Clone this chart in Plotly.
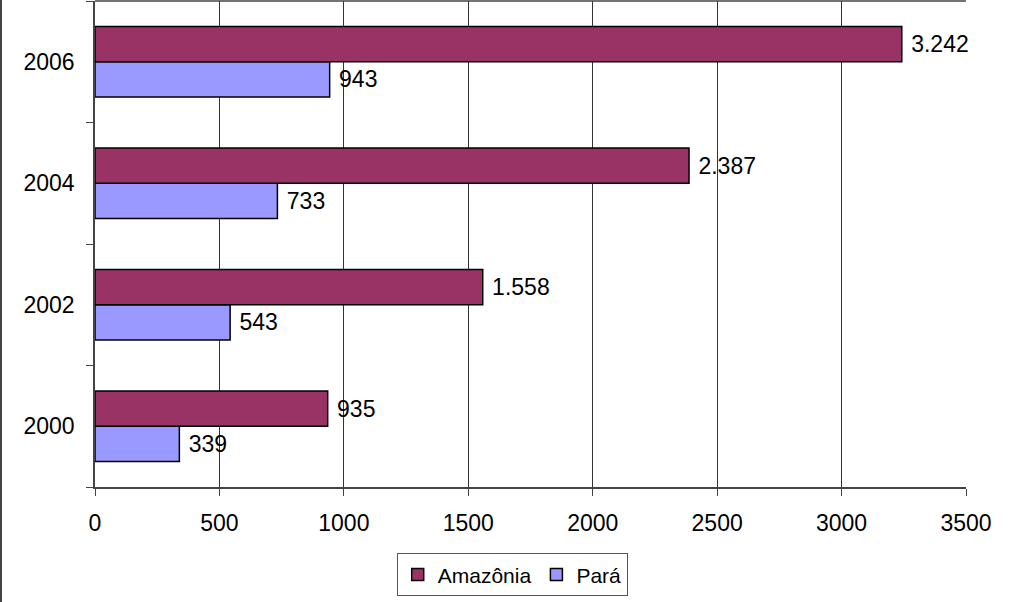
import plotly.graph_objects as go

years = ["2000", "2002", "2004", "2006"]
amazonia = [935, 1558, 2387, 3242]
para = [339, 543, 733, 943]
amazonia_labels = ["935", "1.558", "2.387", "3.242"]
para_labels = ["339", "543", "733", "943"]
x_ticks = [0, 500, 1000, 1500, 2000, 2500, 3000, 3500]

FONT = "Liberation Sans, Arial, sans-serif"
FS = 23

fig = go.Figure()
fig.add_trace(go.Bar(
    y=years, x=para, name="Pará", orientation="h",
    marker=dict(color="#9999FF", line=dict(color="black", width=1.5)),
    text=[" " + t for t in para_labels], textposition="outside", cliponaxis=False,
    textfont=dict(size=FS, color="black", family=FONT), legendrank=2,
))
fig.add_trace(go.Bar(
    y=years, x=amazonia, name="Amazônia", orientation="h",
    marker=dict(color="#993366", line=dict(color="black", width=1.5)),
    text=[" " + t for t in amazonia_labels], textposition="outside", cliponaxis=False,
    textfont=dict(size=FS, color="black", family=FONT), legendrank=1,
))

fig.update_layout(
    width=1024, height=602,
    margin=dict(l=95, r=58, t=1, b=115, autoexpand=False),
    paper_bgcolor="white", plot_bgcolor="white",
    barmode="group", bargap=0.42, bargroupgap=0,
    font=dict(family=FONT, size=FS, color="black"),
    legend=dict(
        orientation="h", x=0.479, xanchor="center", y=-0.181, yanchor="middle",
        bordercolor="#555555", borderwidth=1, font=dict(size=21),
        traceorder="normal", itemwidth=30,
    ),
    xaxis=dict(
        range=[0, 3500], tickvals=x_ticks, ticktext=[str(v) for v in x_ticks],
        showgrid=True, gridcolor="#333333", gridwidth=1,
        showline=True, linecolor="#444444", linewidth=1.5,
        ticks="outside", ticklen=7, tickcolor="#444444",
        zeroline=False, mirror=False, ticklabelstandoff=8, automargin=False,
    ),
    yaxis=dict(
        type="category", categoryorder="array", categoryarray=years,
        showgrid=False, showline=True, linecolor="#444444", linewidth=1.5,
        ticks="outside", ticklen=7, tickcolor="#444444", tickson="boundaries",
        ticklabelstandoff=14, automargin=False,
    ),
    shapes=[
        dict(type="line", xref="paper", yref="paper", x0=0, x1=1, y0=1, y1=1,
             line=dict(color="#444444", width=1.5)),
        dict(type="line", xref="paper", yref="paper",
             x0=-94 / 871, x1=-94 / 871, y0=-115 / 486, y1=1.003,
             line=dict(color="#444444", width=2)),
    ],
)

fig.write_html(
    "out.html",
    config={"displayModeBar": False},
    post_script="document.body.style.margin='0';document.body.style.overflow='hidden';",
)
